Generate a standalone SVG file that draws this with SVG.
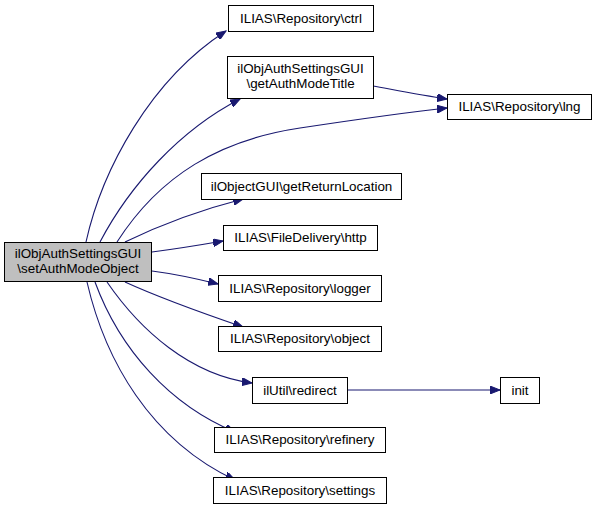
<svg xmlns="http://www.w3.org/2000/svg" width="596" height="509" viewBox="0 0 596 509">
<defs>
<marker id="ah" markerWidth="11" markerHeight="8" refX="10" refY="4" orient="auto" markerUnits="userSpaceOnUse">
<path d="M0,0 L10,4 L0,8 Z" fill="#191970" stroke="#191970"/>
</marker>
<style>
.n rect{fill:#fff;stroke:#000;stroke-width:1}
.n.main rect{fill:#bfbfbf}
.n text{font-family:"Liberation Sans",Arial,sans-serif;font-size:13.4px;text-anchor:middle;fill:#000}
.e path{fill:none;stroke:#191970;stroke-width:1.1;marker-end:url(#ah)}
</style>
</defs>
<rect width="596" height="509" fill="#fff"/>
<g class="e" id="edges">
<path d="M86,242 C102,170 150,80 226,31"/>
<path d="M100,242 C130,185 180,130 240,99"/>
<path d="M117,242 C160,175 220,140 300,128 C360,119 410,112 447,108"/>
<path d="M373,86 C395,90 420,95 447,99"/>
<path d="M125,242 C160,225 200,210 243,199"/>
<path d="M152,252 C175,249 200,245 223,241"/>
<path d="M152,271 C175,274 198,279 218,284"/>
<path d="M125,282 C160,298 205,314 243,327"/>
<path d="M107,282 C140,330 190,375 252,383"/>
<path d="M347,390 L500,390"/>
<path d="M95,282 C120,350 170,405 235,432"/>
<path d="M87,282 C105,360 150,440 235,480"/>
</g>
<g class="n main" id="node-setAuthModeObject"><rect x="4.5" y="242.5" width="147" height="39"/><text x="78" y="258">ilObjAuthSettingsGUI</text><text x="78" y="273">\setAuthModeObject</text></g>
<g class="n" id="node-ctrl"><rect x="228.5" y="5.5" width="145" height="26"/><text x="301" y="22.5">ILIAS\Repository\ctrl</text></g>
<g class="n" id="node-getAuthModeTitle"><rect x="227.5" y="56.5" width="146" height="42"/><text x="300.5" y="73">ilObjAuthSettingsGUI</text><text x="300.5" y="88">\getAuthModeTitle</text></g>
<g class="n" id="node-lng"><rect x="447.5" y="94.5" width="144" height="25"/><text x="519.5" y="111">ILIAS\Repository\lng</text></g>
<g class="n" id="node-getReturnLocation"><rect x="201.5" y="173.5" width="200" height="26"/><text x="301.5" y="190.5">ilObjectGUI\getReturnLocation</text></g>
<g class="n" id="node-http"><rect x="223.5" y="225.5" width="154" height="25"/><text x="300.5" y="242">ILIAS\FileDelivery\http</text></g>
<g class="n" id="node-logger"><rect x="218.5" y="275.5" width="163" height="26"/><text x="300" y="292.5">ILIAS\Repository\logger</text></g>
<g class="n" id="node-object"><rect x="218.5" y="326.5" width="163" height="25"/><text x="300" y="343">ILIAS\Repository\object</text></g>
<g class="n" id="node-redirect"><rect x="252.5" y="377.5" width="95" height="26"/><text x="300" y="394.5">ilUtil\redirect</text></g>
<g class="n" id="node-init"><rect x="500.5" y="377.5" width="39" height="26"/><text x="520" y="394.5">init</text></g>
<g class="n" id="node-refinery"><rect x="214.5" y="427.5" width="171" height="25"/><text x="300" y="444">ILIAS\Repository\refinery</text></g>
<g class="n" id="node-settings"><rect x="213.5" y="477.5" width="173" height="26"/><text x="300" y="494.5">ILIAS\Repository\settings</text></g>
</svg>
